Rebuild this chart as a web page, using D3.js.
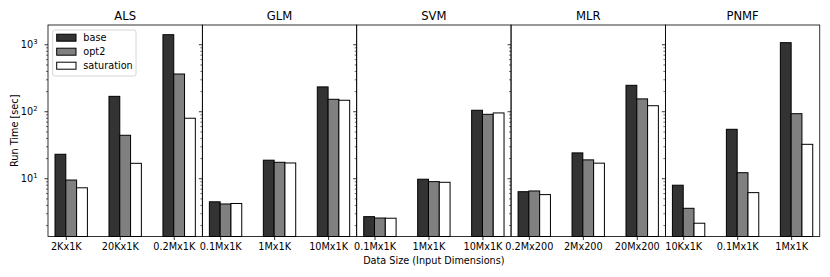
<!DOCTYPE html>
<html>
<head>
<meta charset="utf-8">
<script src="https://cdn.jsdelivr.net/npm/d3@7"></script>
<style>
  html, body { margin: 0; padding: 0; background: #fff; }
  svg { display: block; font-family: "DejaVu Sans", sans-serif; }
</style>
</head>
<body>
<svg id="chart" width="830" height="277"></svg>
<script>
// ---- data ----
const panelTitles = ["ALS", "GLM", "SVM", "MLR", "PNMF"];
const categoriesALS = ["2Kx1K", "20Kx1K", "0.2Mx1K"];
const categoriesGLM = ["0.1Mx1K", "1Mx1K", "10Mx1K"];
const categoriesSVM = ["0.1Mx1K", "1Mx1K", "10Mx1K"];
const categoriesMLR = ["0.2Mx200", "2Mx200", "20Mx200"];
const categoriesPNMF = ["10Kx1K", "0.1Mx1K", "1Mx1K"];
const seriesNames = ["base", "opt2", "saturation"];
const baseValues = [[22.8, 167, 1390], [4.45, 18.6, 231], [2.67, 9.67, 103.5], [6.3, 23.9, 244], [7.87, 53.8, 1057]];
const opt2Values = [[9.4, 43.8, 360], [4.13, 17.3, 151], [2.55, 8.9, 90], [6.46, 18.8, 153], [3.56, 12.1, 92]];
const saturationValues = [[7.2, 16.7, 78.7], [4.2, 16.9, 146], [2.53, 8.7, 94.4], [5.7, 16.8, 121], [2.13, 6.1, 32.1]];
const yMajorTicks = [10, 100, 1000];
const yTickExponents = ["1", "2", "3"];
const yLabel = "Run Time [sec]";
const xLabel = "Data Size (Input Dimensions)";

const panelCategories = [categoriesALS, categoriesGLM, categoriesSVM, categoriesMLR, categoriesPNMF];
const seriesValues = [baseValues, opt2Values, saturationValues];
const seriesColors = ["#333333", "#808080", "#ffffff"];

// ---- layout ----
const svg = d3.select("#chart");
const plotLeft = 48, plotRight = 819.75, plotTop = 25, plotBottom = 236.5;
const panelW = (plotRight - plotLeft) / panelTitles.length;
const fs = 9.7;

const y = d3.scaleLog().domain([1.35, 1940]).range([plotBottom, plotTop]);
const minorTicks = [];
[1, 10, 100, 1000].forEach(d => { for (let m = 2; m <= 9; m++) { const v = d * m; if (v >= 1.35 && v <= 1940) minorTicks.push(v); } });

panelTitles.forEach((title, p) => {
  const x0 = plotLeft + p * panelW;
  const x = d3.scaleLinear().domain([-0.33, 2.53]).range([x0, x0 + panelW]);
  const g = svg.append("g");

  // bars
  seriesValues.forEach((vals, s) => {
    g.selectAll(null).data(vals[p]).enter().append("rect")
      .attr("x", (d, i) => x(i - 0.2 + 0.2 * s))
      .attr("width", (d, i) => x(i + 0.2 * s) - x(i - 0.2 + 0.2 * s))
      .attr("y", d => y(d))
      .attr("height", d => plotBottom - y(d))
      .attr("fill", seriesColors[s])
      .attr("stroke", "#000")
      .attr("stroke-width", 1);
  });

  // x axis
  const xa = g.append("g").attr("transform", `translate(0,${plotBottom})`)
    .call(d3.axisBottom(x).tickValues([0, 1, 2]).tickSize(3.5).tickPadding(3.5)
      .tickFormat(i => panelCategories[p][i]));
  xa.select(".domain").remove();
  xa.selectAll("line").attr("stroke", "#000").attr("stroke-width", 0.8);
  xa.selectAll("text").attr("font-size", fs).attr("fill", "#000")
    .attr("font-family", "DejaVu Sans").attr("dy", "0.71em");

  // y axis minor
  const ym = g.append("g").attr("transform", `translate(${x0},0)`)
    .call(d3.axisLeft(y).tickValues(minorTicks).tickSize(2).tickFormat(""));
  ym.select(".domain").remove();
  ym.selectAll("line").attr("stroke", "#000").attr("stroke-width", 0.6);
  // y axis major
  const yM = g.append("g").attr("transform", `translate(${x0},0)`)
    .call(d3.axisLeft(y).tickValues(yMajorTicks).tickSize(3.5).tickFormat(""));
  yM.select(".domain").remove();
  yM.selectAll("line").attr("stroke", "#000").attr("stroke-width", 0.8);

  if (p === 0) {
    yMajorTicks.forEach((v, k) => {
      const t = svg.append("text").attr("x", 37.5).attr("y", y(v) + 3.6)
        .attr("text-anchor", "end").attr("font-size", fs).attr("fill", "#000");
      t.append("tspan").text("10");
      t.append("tspan").attr("dy", -4.2).attr("font-size", 6.8).text(yTickExponents[k]);
    });
  }

  // frame
  g.append("rect").attr("x", x0).attr("y", plotTop).attr("width", panelW).attr("height", plotBottom - plotTop)
    .attr("fill", "none").attr("stroke", "#000").attr("stroke-width", 0.8);

  // title
  svg.append("text").attr("x", x0 + panelW / 2).attr("y", 20).attr("text-anchor", "middle")
    .attr("font-size", 11.6).attr("fill", "#000").text(title);

  if (p === 2) {
    svg.append("text").attr("x", x0 + panelW / 2).attr("y", 263.5).attr("text-anchor", "middle")
      .attr("font-size", fs).attr("fill", "#000").text(xLabel);
  }
});

// y label
svg.append("text").attr("transform", `translate(18.3,${(plotTop + plotBottom) / 2}) rotate(-90)`)
  .attr("text-anchor", "middle").attr("font-size", fs).attr("fill", "#000").text(yLabel);

// legend
const lg = svg.append("g");
lg.append("rect").attr("x", 52.7).attr("y", 30).attr("width", 83.3).attr("height", 46)
  .attr("rx", 2).attr("fill", "#fff").attr("fill-opacity", 0.8).attr("stroke", "#ccc").attr("stroke-width", 0.8);
seriesNames.forEach((name, s) => {
  const cy = 37.7 + 14 * s;
  lg.append("rect").attr("x", 56.7).attr("y", cy - 3.5).attr("width", 19.3).attr("height", 7)
    .attr("fill", seriesColors[s]).attr("stroke", "#000").attr("stroke-width", 1);
  lg.append("text").attr("x", 83.3).attr("y", cy + 3.5).attr("font-size", fs).attr("fill", "#000").text(name);
});
</script>
</body>
</html>
